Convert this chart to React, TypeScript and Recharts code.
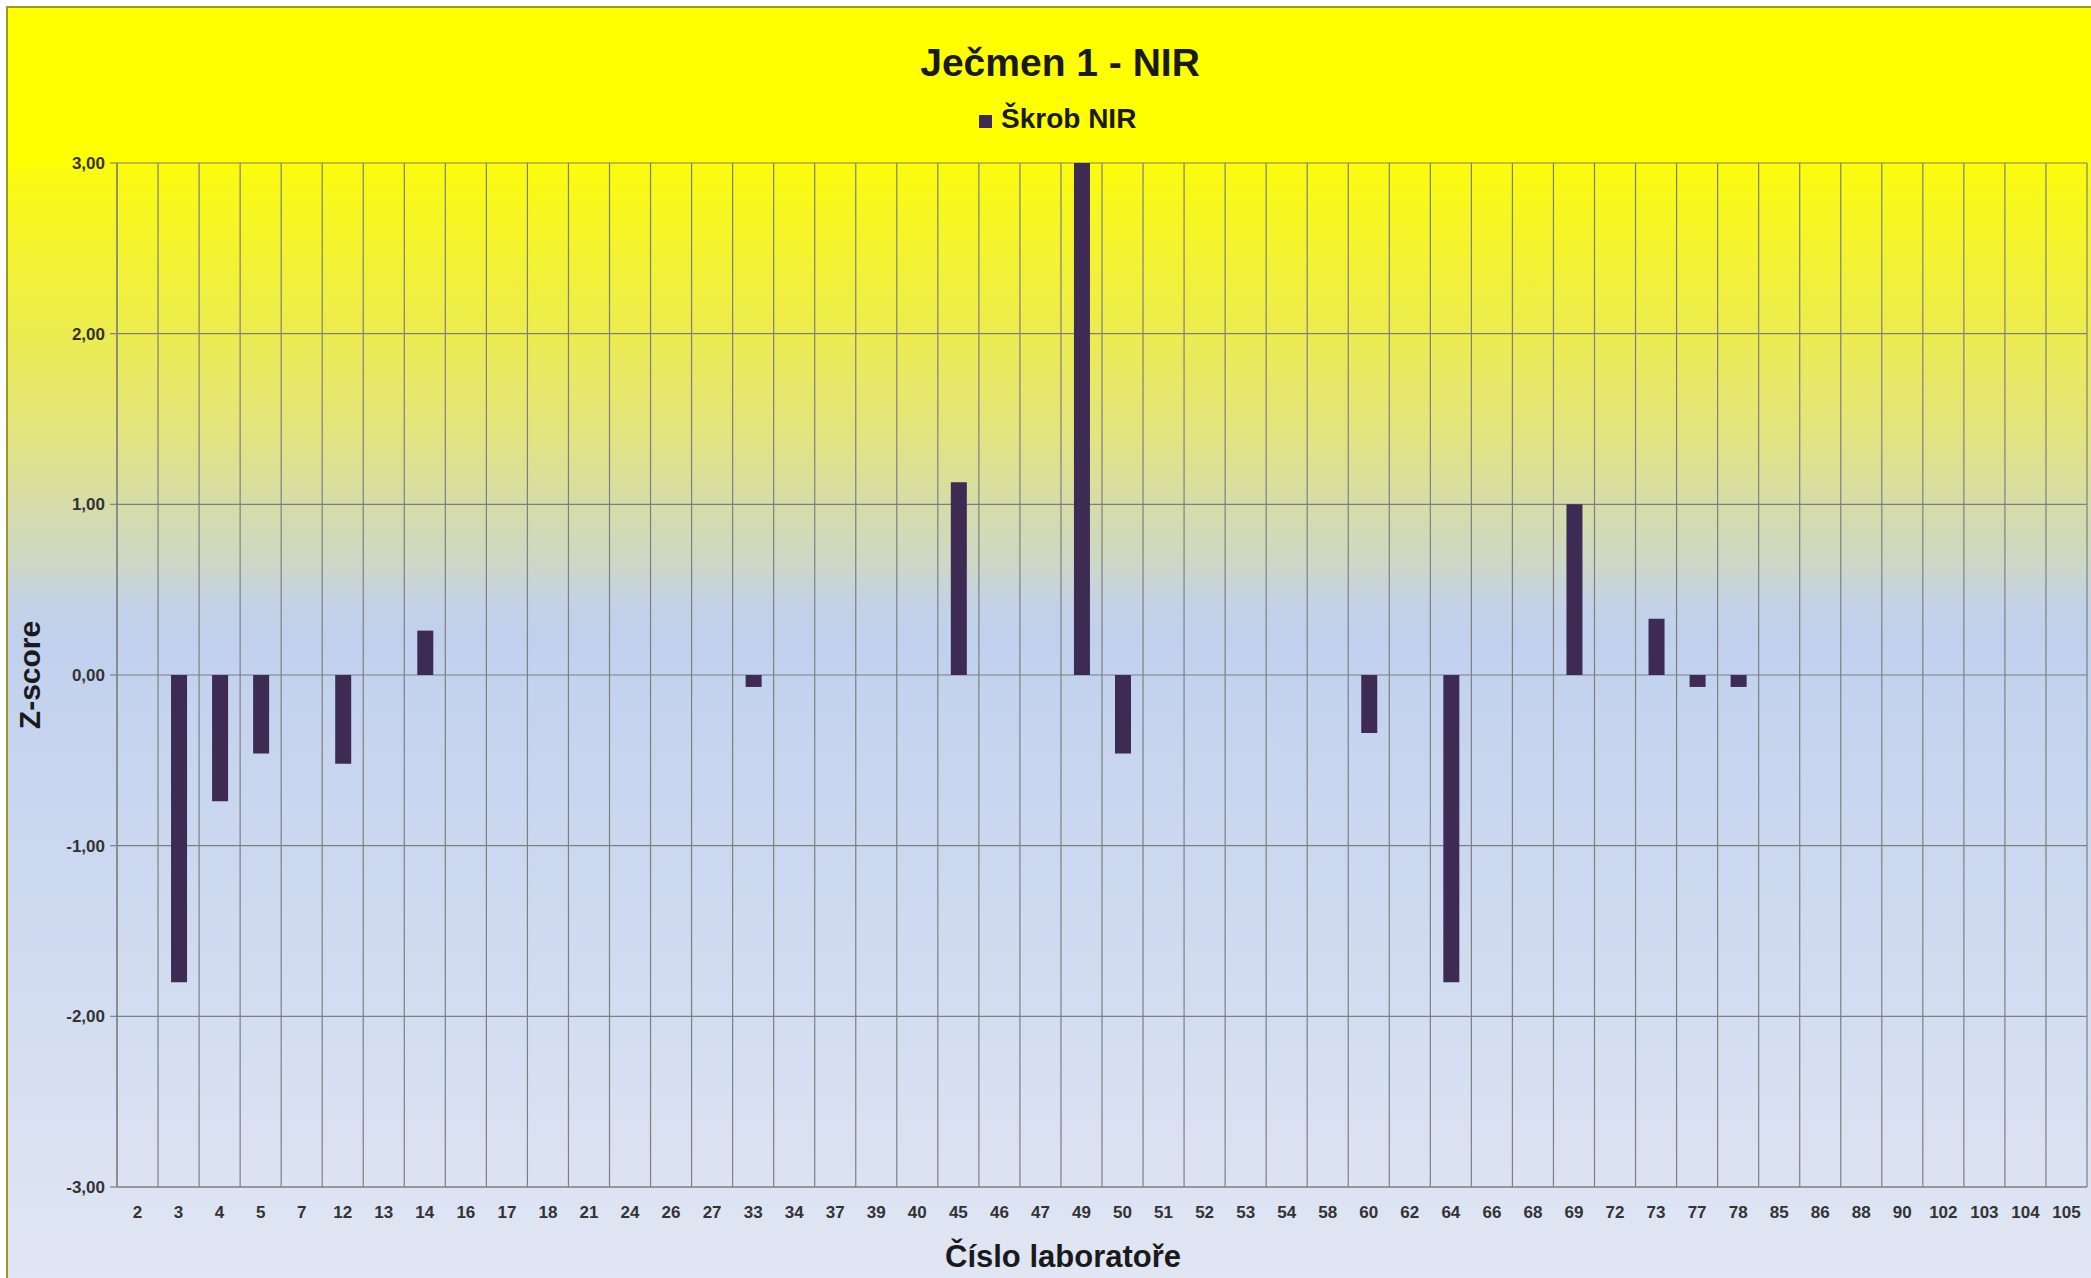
import React from 'react';
import { BarChart, Bar, XAxis, YAxis, CartesianGrid, Legend } from 'recharts';

const labs = ['2', '3', '4', '5', '7', '12', '13', '14', '16', '17', '18', '21', '24', '26', '27', '33', '34', '37', '39', '40', '45', '46', '47', '49', '50', '51', '52', '53', '54', '58', '60', '62', '64', '66', '68', '69', '72', '73', '77', '78', '85', '86', '88', '90', '102', '103', '104', '105'];
const zScores: (number | null)[] = [
  null, -1.8, -0.74, -0.46, null, -0.52, null, 0.26, null, null,
  null, null, null, null, null, -0.07, null, null, null, null,
  1.13, null, null, 3.0, -0.46, null, null, null, null, null,
  -0.34, null, -1.8, null, null, 1.0, null, 0.33, -0.07, -0.07,
  null, null, null, null, null, null, null, null,
];
const yTicks = [-3, -2, -1, 0, 1, 2, 3];

const seriesName = 'Škrob NIR';
const chartTitle = 'Ječmen 1 - NIR';
const xTitle = 'Číslo laboratoře';
const yTitle = 'Z-score';

const data = labs.map((lab, i) => ({ lab, z: zScores[i] }));

const W = 2083;
const H = 1270;
const FONT = "'Liberation Sans', Arial, Helvetica, sans-serif";
const GRID = '#7f7f7f';
const BAR = '#3d2b53';

const bg =
  'linear-gradient(to bottom, #ffff00 0px, #ffff00 150px, #fafa14 170px, #ecec50 326px, #e2e482 430px, #d6dca8 496px, #cdd8c4 552px, #c4d2e4 592px, #c1d0ee 632px, #c3d2ee 667px, #e0e6f3 1270px)';

const renderLegend = () => (
  <div style={{ display: 'flex', alignItems: 'flex-start', fontFamily: FONT, whiteSpace: 'nowrap' }}>
    <span style={{ display: 'inline-block', width: 13, height: 13, background: BAR, marginTop: 13 }} />
    <span style={{ marginLeft: 9, fontSize: 28, fontWeight: 700, lineHeight: '34px', color: '#1a1a1a' }}>{seriesName}</span>
  </div>
);

export default function App() {
  return (
    <div
      style={{
        position: 'fixed',
        left: 6,
        top: 6,
        width: W,
        height: H,
        borderLeft: '2px solid #a09624',
        borderTop: '2px solid #a09624',
        background: bg,
        fontFamily: FONT,
        overflow: 'hidden',
      }}
    >
      <BarChart width={W} height={H} data={data} margin={{ top: 155, right: 4, left: 0, bottom: 51 }}>
        <CartesianGrid
          stroke={GRID}
          strokeWidth={1.2}
          verticalCoordinatesGenerator={({ offset }: any) => {
            const n = labs.length;
            const pts: number[] = [];
            for (let i = 0; i <= n; i++) pts.push(offset.left + (i * offset.width) / n);
            return pts;
          }}
        />
        <XAxis
          dataKey="lab"
          interval={0}
          height={40}
          tickLine={false}
          tickSize={0}
          tickMargin={19}
          axisLine={{ stroke: GRID, strokeWidth: 1.2 }}
          tick={{ fontSize: 17, fontWeight: 700, fill: '#333333', fontFamily: FONT }}
        />
        <YAxis
          type="number"
          domain={[-3, 3]}
          ticks={yTicks}
          interval={0}
          allowDataOverflow
          width={109}
          tickSize={7}
          tickMargin={5}
          tickLine={{ stroke: GRID, strokeWidth: 1.2 }}
          axisLine={{ stroke: GRID, strokeWidth: 1.2 }}
          tickFormatter={(v: number) => v.toFixed(2).replace('.', ',')}
          tick={{ fontSize: 17, fontWeight: 700, fill: '#333333', fontFamily: FONT }}
        />
        <Legend
          verticalAlign="middle"
          align="center"
          content={renderLegend}
          wrapperStyle={{ left: 971, top: 94, width: 'auto' }}
        />
        <Bar dataKey="z" name={seriesName} fill={BAR} barSize={16} isAnimationActive={false} />
      </BarChart>
      <div
        style={{
          position: 'absolute',
          left: 1052,
          top: 35,
          transform: 'translateX(-50%)',
          fontSize: 39,
          lineHeight: '39px',
          fontWeight: 700,
          color: '#1a1a1a',
          whiteSpace: 'nowrap',
        }}
      >
        {chartTitle}
      </div>
      <div
        style={{
          position: 'absolute',
          left: 1055,
          top: 1233,
          transform: 'translateX(-50%)',
          fontSize: 31,
          lineHeight: '31px',
          fontWeight: 700,
          color: '#1a1a1a',
          whiteSpace: 'nowrap',
        }}
      >
        {xTitle}
      </div>
      <div
        style={{
          position: 'absolute',
          left: 21.6,
          top: 667,
          transform: 'translate(-50%, -50%) rotate(-90deg)',
          fontSize: 30,
          lineHeight: '30px',
          fontWeight: 700,
          color: '#1a1a1a',
          whiteSpace: 'nowrap',
        }}
      >
        {yTitle}
      </div>
    </div>
  );
}
